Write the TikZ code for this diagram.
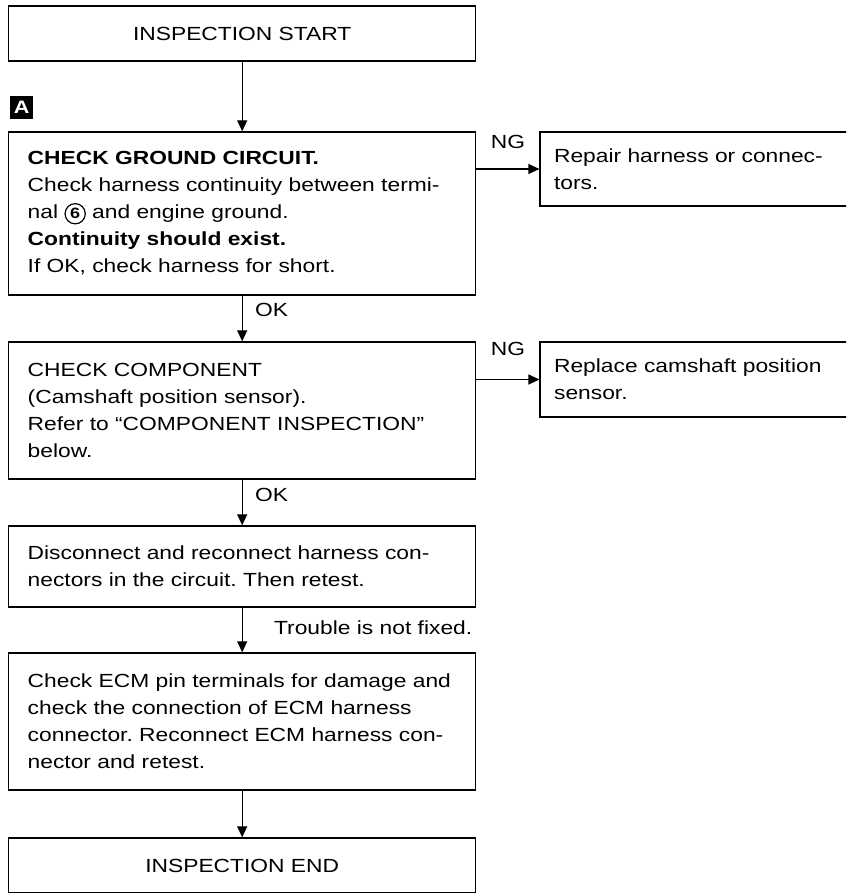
\documentclass[tikz,border=0pt]{standalone}
\usepackage{fontspec}
\setmainfont[FakeStretch=1.2]{Liberation Sans}
\usepackage{tikz}
\usetikzlibrary{arrows.meta, positioning, calc}
\frenchspacing
\tikzset{
    stepbox/.style={
        draw, line width=1.4pt,
        text width=429pt, inner xsep=19pt, inner ysep=0pt,
        align=left
    },
    sidebox/.style={
        draw, line width=1.4pt,
        text width=290pt, inner xsep=14pt, inner ysep=0pt,
        align=left
    },
    flow/.style={-{Triangle[length=11pt, width=10pt]}, line width=1.2pt},
    tagbox/.style={fill=black, text=white, font=\bfseries\fontsize{18}{18}\selectfont,
        minimum size=23pt, inner sep=0pt},
    termcirc/.style={draw, circle, line width=1.2pt, inner sep=2pt,
        text width={}, align=center, minimum size=0pt,
        font=\bfseries\fontsize{15}{15}\selectfont},
}
\newcommand{\termno}[1]{\tikz[baseline=(t.base)]\node[termcirc] (t) {#1};}

\begin{document}
\begin{tikzpicture}[x=1pt, y=-1pt, font=\fontsize{19}{27}\selectfont]
    \clip (0,0) rectangle (846,893);
    \node[stepbox, align=center, minimum height=55pt, anchor=north west] (start) at (8,5.3)
          {INSPECTION START};
    \node[stepbox, minimum height=163pt, below=69.6pt of start] (ground)
          {\textbf{CHECK GROUND CIRCUIT.}\\
           Check harness continuity between termi-\\
           nal \termno{6} and engine ground.\\
           \textbf{Continuity should exist.}\\
           If OK, check harness for short.};
    \node[tagbox, anchor=south west] (tagA) at ($(ground.north west)+(2,-12)$) {A};
    \node[sidebox, minimum height=74pt, right=63pt of ground.north east, anchor=north west] (repair)
          {Repair harness or connec-\\tors.};
    \node[stepbox, minimum height=137pt, below=45.6pt of ground] (comp)
          {CHECK COMPONENT\\
           (Camshaft position sensor).\\
           Refer to ``COMPONENT INSPECTION''\\
           below.};
    \node[sidebox, minimum height=75pt, right=63pt of comp.north east, anchor=north west] (replace)
          {Replace camshaft position\\sensor.};
    \node[stepbox, minimum height=81pt, below=45.6pt of comp] (reconn)
          {Disconnect and reconnect harness con-\\
           nectors in the circuit. Then retest.};
    \node[stepbox, minimum height=137pt, below=44.6pt of reconn] (ecm)
          {Check ECM pin terminals for damage and\\
           check the connection of ECM harness\\
           connector. Reconnect ECM harness con-\\
           nector and retest.};
    \node[stepbox, align=center, minimum height=55pt, below=46.6pt of ecm] (finish)
          {INSPECTION END};

    % main line
    \draw[flow] (start) -- (ground);
    \draw[flow] (ground) -- node[right=9pt, pos=0.32] {OK} (comp);
    \draw[flow] (comp) -- node[right=9pt, pos=0.33] {OK} (reconn);
    \draw[flow] (reconn) -- node[right=28pt, pos=0.45] {Trouble is not fixed.} (ecm);
    \draw[flow] (ecm) -- (finish);

    % NG branches
    \draw[flow] (ground.east |- repair.west) -- node[above=16pt] {NG} (repair.west);
    \draw[flow] (comp.east |- replace.west) -- node[above=20pt] {NG} (replace.west);
\end{tikzpicture}
\end{document}
